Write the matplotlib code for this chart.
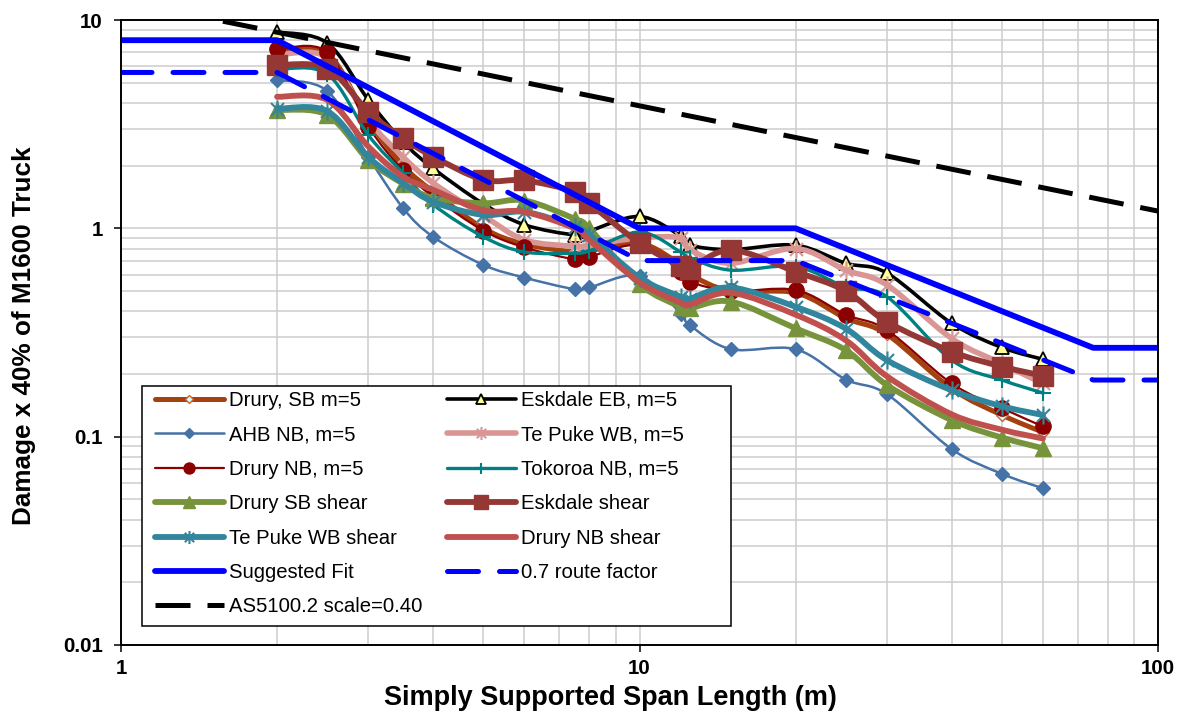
import numpy as np
import matplotlib
matplotlib.use('Agg')
import matplotlib.pyplot as plt
from matplotlib.path import Path
from matplotlib.patches import PathPatch, Rectangle
from matplotlib.lines import Line2D
from matplotlib.ticker import LogLocator, NullFormatter, FixedLocator, FixedFormatter

plt.rcParams['font.family'] = ['Liberation Sans', 'DejaVu Sans']

# ---------------- data ----------------
span = [2, 2.5, 3, 3.5, 4, 5, 6, 7.5, 8, 10, 12, 12.5, 15, 20, 25, 30, 40, 50, 60]

drury_sb_m5 = [7.0, 6.9, 3.3, 2.0, 1.5, 1.0, 0.84, 0.77, 0.78, 0.85, 0.67, 0.6, 0.5, 0.49, 0.37, 0.31, 0.17, 0.127, 0.105]
eskdale_eb_m5 = [8.75, 7.75, 4.13, 2.6, 1.94, 1.31, 1.04, 0.93, 0.97, 1.14, 0.92, 0.83, 0.79, 0.83, 0.68, 0.61, 0.35, 0.268, 0.235]
ahb_nb_m5 = [5.15, 4.56, 2.2, 1.25, 0.91, 0.667, 0.58, 0.51, 0.52, 0.59, 0.39, 0.343, 0.263, 0.263, 0.188, 0.16, 0.0871, 0.0663, 0.0565]
tepuke_wb_m5 = [6.8, 6.6, 3.31, 2.2, 1.65, 1.15, 0.88, 0.82, 0.83, 0.9, 0.9, 0.79, 0.68, 0.8, 0.63, 0.535, 0.296, 0.224, 0.18]
drury_nb_m5 = [7.23, 7.0, 3.08, 1.9, 1.42, 0.975, 0.81, 0.71, 0.73, 0.83, 0.62, 0.555, 0.5, 0.506, 0.385, 0.325, 0.18, 0.137, 0.112]
tokoroa_nb_m5 = [5.8, 5.5, 2.8, 1.84, 1.3, 0.91, 0.77, 0.76, 0.78, 0.96, 0.77, 0.72, 0.63, 0.655, 0.522, 0.47, 0.233, 0.187, 0.162]
drury_sb_shear = [3.7, 3.5, 2.13, 1.64, 1.4, 1.32, 1.36, 1.11, 1.0, 0.54, 0.42, 0.413, 0.445, 0.331, 0.26, 0.177, 0.12, 0.099, 0.088]
eskdale_shear = [6.08, 5.85, 3.63, 2.71, 2.21, 1.71, 1.70, 1.50, 1.32, 0.85, 0.66, 0.64, 0.787, 0.62, 0.50, 0.356, 0.256, 0.217, 0.196]
tepuke_wb_shear = [3.75, 3.65, 2.2, 1.65, 1.34, 1.16, 1.2, 1.02, 0.93, 0.58, 0.47, 0.46, 0.52, 0.42, 0.33, 0.233, 0.167, 0.14, 0.127]
drury_nb_shear = [4.28, 4.13, 2.47, 1.77, 1.53, 1.22, 1.2, 1.0, 0.88, 0.55, 0.44, 0.43, 0.49, 0.385, 0.29, 0.195, 0.128, 0.108, 0.098]

fit_x = [1, 2, 10, 20, 75, 100]
fit_y = [8, 8, 1, 1, 0.267, 0.267]
route_y = [5.6, 5.6, 0.7, 0.7, 0.187, 0.187]
as_x = [1, 100]
as_y = [12.4, 1.21]

labels = ["Drury, SB m=5", "Eskdale EB, m=5", "AHB NB, m=5", "Te Puke WB, m=5",
          "Drury NB, m=5", "Tokoroa NB, m=5", "Drury SB shear", "Eskdale shear",
          "Te Puke WB shear", "Drury NB shear", "Suggested Fit", "0.7 route factor",
          "AS5100.2 scale=0.40"]

# ---------------- helpers ----------------
def smooth_path(x, y):
    P = np.column_stack([np.log10(x), np.log10(y)])
    n = len(P)
    verts = [P[0]]
    codes = [Path.MOVETO]
    for i in range(n - 1):
        p0 = P[i - 1] if i > 0 else P[i]
        p1 = P[i]
        p2 = P[i + 1]
        p3 = P[i + 2] if i + 2 < n else P[i + 1]
        c1 = p1 + (p2 - p0) / 6.0
        c2 = p2 - (p3 - p1) / 6.0
        verts += [c1, c2, p2]
        codes += [Path.CURVE4] * 3
    return Path(10 ** np.array(verts), codes)

asterisk = Path([(0, -1), (0, 1), (-0.72, -0.72), (0.72, 0.72), (-0.72, 0.72), (0.72, -0.72)],
                [Path.MOVETO, Path.LINETO, Path.MOVETO, Path.LINETO, Path.MOVETO, Path.LINETO])

# ---------------- figure ----------------
W, H = 1181, 713
fig = plt.figure(figsize=(W / 100, H / 100), dpi=100)
ax = fig.add_axes([121 / W, (H - 645) / H, (1158 - 121) / W, (645 - 20) / H])
ax.set_xscale('log')
ax.set_yscale('log')
ax.set_xlim(1, 100)
ax.set_ylim(0.01, 10)

ax.grid(True, which='both', color='#cdcdcd', lw=1.1, zorder=0)
ax.set_axisbelow(True)

series = [
    (drury_sb_m5, dict(color='#A4410E', lw=3.6, marker='D', ms=6, mfc='#CCFFFF', mec='#D0602A', mew=1.0)),
    (eskdale_eb_m5, dict(color='black', lw=2.6, marker='^', ms=10, mfc='#FFFF99', mec='black', mew=1.3)),
    (ahb_nb_m5, dict(color='#4572A7', lw=1.8, marker='D', ms=7, mfc='#4572A7', mec='#4572A7', mew=1.0)),
    (tepuke_wb_m5, dict(color='#D99694', lw=4.0, marker=asterisk, ms=13, mfc='none', mec='#D99694', mew=1.5)),
    (drury_nb_m5, dict(color='#8B0000', lw=1.6, marker='o', ms=11, mfc='#8B0000', mec='#8B0000', mew=1.0)),
    (tokoroa_nb_m5, dict(color='#008080', lw=2.4, marker='+', ms=11, mfc='none', mec='#008080', mew=1.5)),
    (drury_sb_shear, dict(color='#77933C', lw=4.2, marker='^', ms=12, mfc='#77933C', mec='#77933C', mew=1.0)),
    (eskdale_shear, dict(color='#953735', lw=4.2, marker='s', ms=14, mfc='#953735', mec='#953735', mew=1.0)),
    (tepuke_wb_shear, dict(color='#31859C', lw=4.2, marker=asterisk, ms=13, mfc='none', mec='#31859C', mew=1.5)),
    (drury_nb_shear, dict(color='#C0504D', lw=4.2, marker=None, ms=0, mfc='none', mec='none', mew=0)),
]

handles = []
for k, (vals, st) in enumerate(series):
    z = 3 + k * 0.1
    patch = PathPatch(smooth_path(span, vals), fill=False, edgecolor=st['color'], lw=st['lw'],
                      capstyle='round', joinstyle='round', zorder=z)
    ax.add_patch(patch)
    if st['marker'] is not None:
        ax.plot(span, vals, ls='none', marker=st['marker'], ms=st['ms'], mfc=st['mfc'],
                mec=st['mec'], mew=st['mew'], zorder=z + 0.05)
    handles.append(Line2D([], [], color=st['color'], lw=st['lw'], marker=st['marker'],
                          ms=st['ms'] * 0.72, mfc=st['mfc'], mec=st['mec'], mew=st['mew'],
                          solid_capstyle='round'))

ax.plot(fit_x, fit_y, color='#0000FF', lw=4.2, solid_capstyle='butt', zorder=5)
ax.plot(fit_x, route_y, color='#0000FF', lw=3.6, ls=(0, (6.2, 4.2)),
        dash_capstyle='round', zorder=5.1)
ax.plot(as_x, as_y, color='black', lw=3.6, ls=(0, (7.0, 3.4)),
        dash_capstyle='butt', zorder=5.2)
handles += [Line2D([], [], color='#0000FF', lw=4.2, solid_capstyle='round'),
            Line2D([], [], color='#0000FF', lw=3.6, ls=(0, (6.2, 4.2)), dash_capstyle='round'),
            Line2D([], [], color='black', lw=3.6, ls=(0, (7.0, 3.4)))]

# axes styling
for s in ax.spines.values():
    s.set_color('black')
    s.set_linewidth(1.4)
    s.set_zorder(10)

ax.xaxis.set_major_locator(FixedLocator([1, 10, 100]))
ax.xaxis.set_major_formatter(FixedFormatter(['1', '10', '100']))
ax.yaxis.set_major_locator(FixedLocator([0.01, 0.1, 1, 10]))
ax.yaxis.set_major_formatter(FixedFormatter(['0.01', '0.1', '1', '10']))
ax.xaxis.set_minor_locator(LogLocator(base=10, subs=np.arange(2, 10)))
ax.yaxis.set_minor_locator(LogLocator(base=10, subs=np.arange(2, 10)))
ax.xaxis.set_minor_formatter(NullFormatter())
ax.yaxis.set_minor_formatter(NullFormatter())
ax.tick_params(which='major', direction='out', length=5, width=1.1, labelsize=14.8, colors='black')
ax.tick_params(which='minor', length=0)
ax.tick_params(axis='x', which='major', pad=5)
ax.tick_params(axis='y', which='major', pad=8)
for t in ax.get_xticklabels() + ax.get_yticklabels():
    t.set_fontweight('bold')

fig.text(610 / W, (H - 705) / H, 'Simply Supported Span Length (m)', ha='center', va='baseline',
         fontsize=19.5, fontweight='bold')
fig.text(24 / W, (H - 336) / H, 'Damage x 40% of M1600 Truck', ha='center', va='center',
         rotation=90, fontsize=18.8, fontweight='bold')

# legend frame drawn as a rectangle, content placed inside it
ax.add_patch(Rectangle((142 / W, (H - 626) / H), (731 - 142) / W, (626 - 386) / H,
                       transform=fig.transFigure, facecolor='white', edgecolor='black',
                       lw=1.1, zorder=19))

order = [0, 2, 4, 6, 8, 10, 12, 1, 3, 5, 7, 9, 11]
leg = ax.legend([handles[i] for i in order], [labels[i] for i in order], ncol=2,
                loc='upper left', bbox_to_anchor=(155 / W, (H - 391) / H),
                bbox_transform=fig.transFigure, borderaxespad=0, fontsize=14.6,
                frameon=False, handlelength=3.4, handletextpad=0.25, columnspacing=1.2,
                labelspacing=0.76, borderpad=0, numpoints=1)
leg.set_zorder(20)

fig.savefig('out.png', dpi=100)
